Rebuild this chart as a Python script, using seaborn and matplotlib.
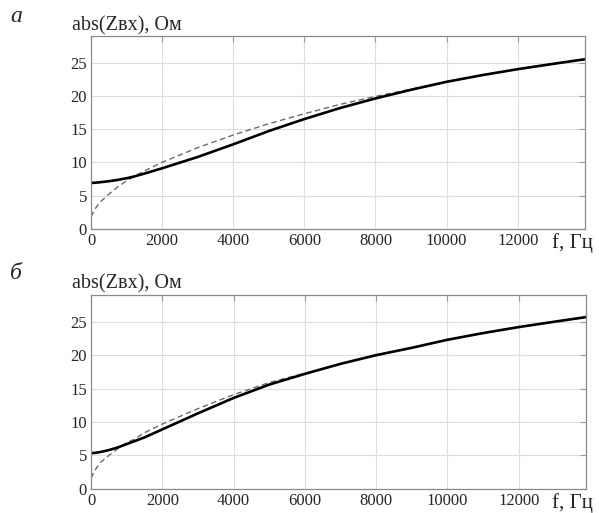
import numpy as np
import pandas as pd
import matplotlib
matplotlib.use("Agg")
import matplotlib.pyplot as plt
import seaborn as sns

# frequency grid, Hz
f_a = [0, 100, 250, 500, 750, 1000, 1200, 1500, 2000, 3000, 4000, 5000, 6000,
       7000, 8000, 9000, 10000, 11000, 12000, 13000, 13900]
# panel a: measured (solid) and model (dashed), Ohm
z_a_solid = [6.9, 6.92, 7.0, 7.15, 7.35, 7.6, 7.85, 8.3, 9.1, 10.8, 12.7, 14.7,
             16.5, 18.15, 19.6, 20.9, 22.1, 23.1, 24.0, 24.8, 25.5]
z_a_dash = [1.8, 2.9, 4.0, 5.2, 6.3, 7.2, 7.85, 8.7, 10.0, 12.2, 14.1, 15.8,
            17.3, 18.7, 19.9, 21.0, 22.1, 23.1, 24.0, 24.8, 25.5]
# panel b
z_b_solid = [5.35, 5.38, 5.5, 5.8, 6.2, 6.7, 7.1, 7.7, 8.9, 11.3, 13.6, 15.6,
             17.2, 18.7, 20.0, 21.1, 22.3, 23.3, 24.2, 25.0, 25.7]
z_b_dash = [1.6, 2.7, 3.9, 5.0, 6.0, 6.9, 7.4, 8.4, 9.7, 12.0, 14.1, 15.9,
            17.3, 18.7, 20.0, 21.1, 22.3, 23.3, 24.2, 25.0, 25.7]

x_ticks = [0, 2000, 4000, 6000, 8000, 10000, 12000]
y_ticks = [0, 5, 10, 15, 20, 25]
panel_letters = ["а", "б"]
y_label = "abs(Zвх), Ом"
x_label = "f, Гц"

sns.set_style("white")
plt.rcParams['font.family'] = ['Liberation Serif', 'DejaVu Serif']

fig = plt.figure(figsize=(5.99, 5.13), dpi=100)
ax_a = fig.add_axes([0.152, 0.554, 0.825, 0.376])
ax_b = fig.add_axes([0.152, 0.047, 0.827, 0.378])

panels = [(ax_a, z_a_solid, z_a_dash), (ax_b, z_b_solid, z_b_dash)]
for ax, solid, dash in panels:
    df = pd.DataFrame({"f": f_a, "solid": solid, "dash": dash})
    sns.lineplot(data=df, x="f", y="dash", ax=ax, color="#6a6a6a", lw=1.0,
                 linestyle=(0, (4, 2.5)), sort=False)
    sns.lineplot(data=df, x="f", y="solid", ax=ax, color="black", lw=1.9,
                 sort=False)
    ax.set_xlim(0, 13900)
    ax.set_ylim(0, 29)
    ax.set_xticks(x_ticks)
    ax.set_yticks(y_ticks)
    ax.set_xlabel("")
    ax.set_ylabel("")
    ax.grid(True, color="#dddddd", lw=0.8)
    ax.tick_params(direction="in", length=4, color="#999999", labelsize=12,
                   top=True, right=True, pad=3)
    for s in ax.spines.values():
        s.set_color("#8a8a8a")
        s.set_linewidth(0.9)

# axis captions in MATLAB style
fig.text(72 / 599, 1 - 30 / 513, y_label, fontsize=14.5, va="baseline")
fig.text(72 / 599, 1 - 288 / 513, y_label, fontsize=14.5, va="baseline")
fig.text(552 / 599, 1 - 248 / 513, x_label, fontsize=15, va="baseline")
fig.text(552 / 599, 1 - 508 / 513, x_label, fontsize=15, va="baseline")
fig.text(10 / 599, 1 - 22 / 513, panel_letters[0], fontsize=17, style="italic",
         va="baseline")
fig.text(10 / 599, 1 - 279 / 513, panel_letters[1], fontsize=17, style="italic",
         va="baseline")

fig.savefig("out.png", dpi=100)
